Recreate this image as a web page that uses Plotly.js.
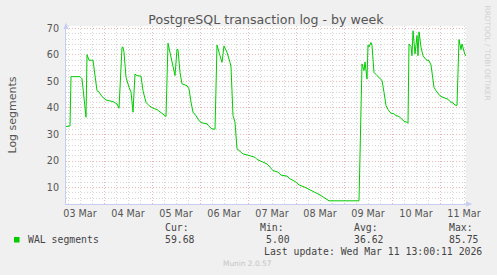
<!DOCTYPE html>
<html>
<head>
<meta charset="utf-8">
<script src="https://cdn.plot.ly/plotly-3.0.1.min.js"></script>
<style>
  html, body { margin: 0; padding: 0; background: #F0F0F0; }
  #chart { width: 497px; height: 275px; }
</style>
</head>
<body>
<div id="chart"></div>
<script>
// ---- data ----
const TITLE = "PostgreSQL transaction log - by week";
const Y_TITLE = "Log segments";
const SERIES_NAME = "WAL segments";
const RANGE_START = "2026-03-03 05:00";
const RANGE_END = "2026-03-11 13:00";

const times = [
  "2026-03-03 05:00","2026-03-03 07:00","2026-03-03 07:30","2026-03-03 12:00","2026-03-03 13:00",
  "2026-03-03 15:00","2026-03-03 15:30","2026-03-03 16:30","2026-03-03 18:30","2026-03-03 20:30",
  "2026-03-03 21:30","2026-03-03 23:00","2026-03-04 01:00","2026-03-04 04:30","2026-03-04 06:30",
  "2026-03-04 07:30","2026-03-04 09:00","2026-03-04 09:30","2026-03-04 10:00","2026-03-04 11:00",
  "2026-03-04 12:30","2026-03-04 13:30","2026-03-04 14:30","2026-03-04 15:30","2026-03-04 16:30",
  "2026-03-04 18:30","2026-03-04 19:30","2026-03-04 21:00","2026-03-04 22:30","2026-03-05 00:30",
  "2026-03-05 02:30","2026-03-05 04:00","2026-03-05 07:00","2026-03-05 08:00","2026-03-05 10:00",
  "2026-03-05 10:30","2026-03-05 11:30","2026-03-05 12:30","2026-03-05 13:00","2026-03-05 14:00",
  "2026-03-05 15:00","2026-03-05 17:30","2026-03-05 18:30","2026-03-05 19:30","2026-03-05 20:30",
  "2026-03-05 22:00","2026-03-05 23:30","2026-03-06 01:00","2026-03-06 03:30","2026-03-06 04:30",
  "2026-03-06 06:00","2026-03-06 07:30","2026-03-06 08:30","2026-03-06 10:00","2026-03-06 11:00",
  "2026-03-06 12:00","2026-03-06 13:30","2026-03-06 15:00","2026-03-06 15:30","2026-03-06 16:30",
  "2026-03-06 17:30","2026-03-06 18:30","2026-03-06 20:30","2026-03-06 21:30","2026-03-06 23:30",
  "2026-03-07 03:30","2026-03-07 04:30","2026-03-07 06:30","2026-03-07 09:30","2026-03-07 11:00",
  "2026-03-07 12:30","2026-03-07 15:00","2026-03-07 16:30","2026-03-07 19:30","2026-03-07 21:00",
  "2026-03-07 23:30","2026-03-08 01:30","2026-03-08 04:30","2026-03-08 06:00","2026-03-08 08:00",
  "2026-03-08 10:30","2026-03-08 12:00","2026-03-08 14:30","2026-03-08 16:30","2026-03-09 07:30",
  "2026-03-09 09:00","2026-03-09 10:00","2026-03-09 10:30","2026-03-09 11:30","2026-03-09 12:00",
  "2026-03-09 12:30","2026-03-09 13:30","2026-03-09 14:00","2026-03-09 15:00","2026-03-09 16:30",
  "2026-03-09 18:00","2026-03-09 19:00","2026-03-09 20:00","2026-03-09 21:00","2026-03-09 22:00",
  "2026-03-09 23:30","2026-03-10 01:00","2026-03-10 02:00","2026-03-10 03:30","2026-03-10 05:00",
  "2026-03-10 06:00","2026-03-10 07:30","2026-03-10 08:00","2026-03-10 08:30","2026-03-10 09:30",
  "2026-03-10 10:00","2026-03-10 10:30","2026-03-10 11:30","2026-03-10 12:30","2026-03-10 13:00",
  "2026-03-10 13:30","2026-03-10 14:30","2026-03-10 15:30","2026-03-10 17:00","2026-03-10 18:30",
  "2026-03-10 19:30","2026-03-10 20:30","2026-03-10 21:00","2026-03-10 22:00","2026-03-10 23:00",
  "2026-03-11 00:00","2026-03-11 01:30","2026-03-11 04:00","2026-03-11 05:00","2026-03-11 06:30",
  "2026-03-11 07:30","2026-03-11 08:30","2026-03-11 09:30","2026-03-11 10:30","2026-03-11 11:00",
  "2026-03-11 12:00","2026-03-11 12:30","2026-03-11 13:00"
];
const walSegments = [
  33.0, 33.2, 51.8, 51.8, 51.0,
  36.5, 60.1, 58.0, 58.0, 46.5,
  46.0, 44.3, 43.0, 42.4, 41.5,
  39.9, 62.9, 62.9, 61.0, 51.6,
  47.8, 46.0, 38.4, 52.8, 52.2,
  52.0, 46.5, 42.1, 40.9, 39.9,
  39.4, 38.6, 36.8, 64.4, 56.6,
  55.9, 52.2, 62.2, 62.0, 53.4,
  49.1, 48.4, 47.2, 42.2, 38.4,
  37.1, 35.2, 34.4, 34.0, 33.1,
  32.1, 32.0, 63.7, 59.7, 57.2,
  63.4, 61.0, 57.2, 55.5, 37.1,
  34.6, 24.6, 23.3, 22.7, 22.3,
  21.4, 20.6, 19.8, 18.9, 17.7,
  16.4, 15.8, 14.7, 14.3, 13.3,
  12.3, 11.0, 10.1, 9.5, 8.8,
  8.0, 7.2, 6.0, 5.0, 5.0,
  56.6, 54.1, 57.3, 50.9, 63.7,
  63.0, 64.7, 63.5, 53.4, 52.2,
  51.2, 50.4, 45.9, 40.9, 39.4,
  38.0, 37.8, 37.1, 36.8, 35.9,
  35.0, 34.6, 34.3, 64.1, 63.2,
  59.7, 69.1, 60.4, 67.3, 59.7,
  68.7, 62.9, 59.7, 58.2, 57.8,
  56.2, 49.1, 47.8, 46.5, 45.6,
  44.6, 44.0, 43.3, 42.4, 41.9,
  41.1, 41.0, 65.8, 62.0, 64.1,
  61.0, 60.0, 59.7
];
const statLabels = ["Cur:", "Min:", "Avg:", "Max:"];
const statValues = ["59.68", "5.00", "36.62", "85.75"];
const lastUpdate = "Last update: Wed Mar 11 13:00:11 2026";
const footer = "Munin 2.0.57";
const sideText = "RRDTOOL / TOBI OETIKER";

// ---- layout helpers (pixel -> paper) ----
const W = 497, H = 275;
const PL = 66, PR = 466, PT = 26, PB = 204;
const px = x => (x - PL) / (PR - PL);
const py = y => (PB - y) / (PB - PT);

const GREEN = "#00CC00";
const TXT = "#555555";
const MONO = "DejaVu Sans Mono, monospace";
const SANS = "DejaVu Sans, sans-serif";
const AXIS_COL = "#C8CCF0";
const MAJOR_GRID = "rgba(230,130,130,0.6)";
const MINOR_GRID = "rgba(175,175,175,0.5)";
const GRID_DASH = "1px,2px";

const annotations = [];
function addText(text, x, y, opts) {
  annotations.push(Object.assign({
    text: text, xref: "paper", yref: "paper", x: px(x), y: py(y),
    xanchor: "left", yanchor: "middle", showarrow: false,
    font: { family: MONO, size: 9.8, color: "#444444" }
  }, opts || {}));
}

addText(SERIES_NAME, 26, 239.5);
const statX = [163.3, 258.3, 352.3, 446.7];
const valX = [163.3, 264.3, 352.3, 446.7];
statLabels.forEach((s, i) => addText(s, statX[i], 227));
statValues.forEach((s, i) => addText(s, valX[i], 239.5));
addText(lastUpdate, 261.7, 251.8);
addText(footer, 247.8, 263.3, { xanchor: "center", font: { family: SANS, size: 7.4, color: "#C4C4C4" } });
addText(sideText, 487, 52.5, { xanchor: "center", textangle: 90, font: { family: SANS, size: 7.4, color: "#D0D0D0" } });

const shapes = [
  // legend swatch
  { type: "rect", xref: "paper", yref: "paper", x0: px(14), x1: px(19.5), y0: py(242.5), y1: py(237), fillcolor: GREEN, line: { width: 0 } },
  // axis arrows
  { type: "path", xref: "paper", yref: "paper",
    path: `M ${px(63.5)} ${py(29)} L ${px(68.5)} ${py(29)} L ${px(66)} ${py(22.5)} Z`,
    fillcolor: AXIS_COL, line: { width: 0 } },
  { type: "path", xref: "paper", yref: "paper",
    path: `M ${px(466)} ${py(201.5)} L ${px(466)} ${py(206.5)} L ${px(472.5)} ${py(204)} Z`,
    fillcolor: AXIS_COL, line: { width: 0 } }
];

const trace = {
  x: times, y: walSegments, type: "scatter", mode: "lines", name: SERIES_NAME,
  line: { color: GREEN, width: 1, shape: "linear" }, hoverinfo: "skip"
};

const layout = {
  width: W, height: H,
  margin: { l: PL, r: W - PR, t: PT, b: H - PB, pad: 0 },
  paper_bgcolor: "#F0F0F0", plot_bgcolor: "#FFFFFF",
  showlegend: false,
  title: { text: TITLE, x: 0.5, xref: "paper", xanchor: "center", y: 1 - 19.5 / H, yanchor: "middle",
           font: { family: SANS, size: 12.6, color: TXT } },
  xaxis: {
    type: "date", range: [RANGE_START, RANGE_END],
    tick0: "2026-03-03 00:00", dtick: 86400000, tickformat: "%d %b", ticklabelmode: "period",
    showgrid: true, gridcolor: MAJOR_GRID, griddash: GRID_DASH, gridwidth: 1,
    minor: { dtick: 21600000, tick0: "2026-03-03 00:00", showgrid: true, gridcolor: MINOR_GRID, griddash: GRID_DASH, gridwidth: 1 },
    showline: true, linecolor: AXIS_COL, linewidth: 1, zeroline: false,
    ticks: "", tickfont: { family: SANS, size: 9.6, color: TXT }, fixedrange: true
  },
  yaxis: {
    range: [3.8, 70.9], tick0: 0, dtick: 10,
    showgrid: true, gridcolor: MAJOR_GRID, griddash: GRID_DASH, gridwidth: 1,
    minor: { dtick: 2, tick0: 0, showgrid: true, gridcolor: MINOR_GRID, griddash: GRID_DASH, gridwidth: 1 },
    showline: true, linecolor: AXIS_COL, linewidth: 1, zeroline: false,
    ticks: "outside", ticklen: 4, tickcolor: "rgba(0,0,0,0)",
    tickfont: { family: SANS, size: 9.6, color: TXT },
    title: { text: Y_TITLE, standoff: 28, font: { family: SANS, size: 11, color: TXT } },
    fixedrange: true
  },
  annotations: annotations,
  shapes: shapes
};

Plotly.newPlot("chart", [trace], layout, { staticPlot: true, displayModeBar: false });
</script>
</body>
</html>
